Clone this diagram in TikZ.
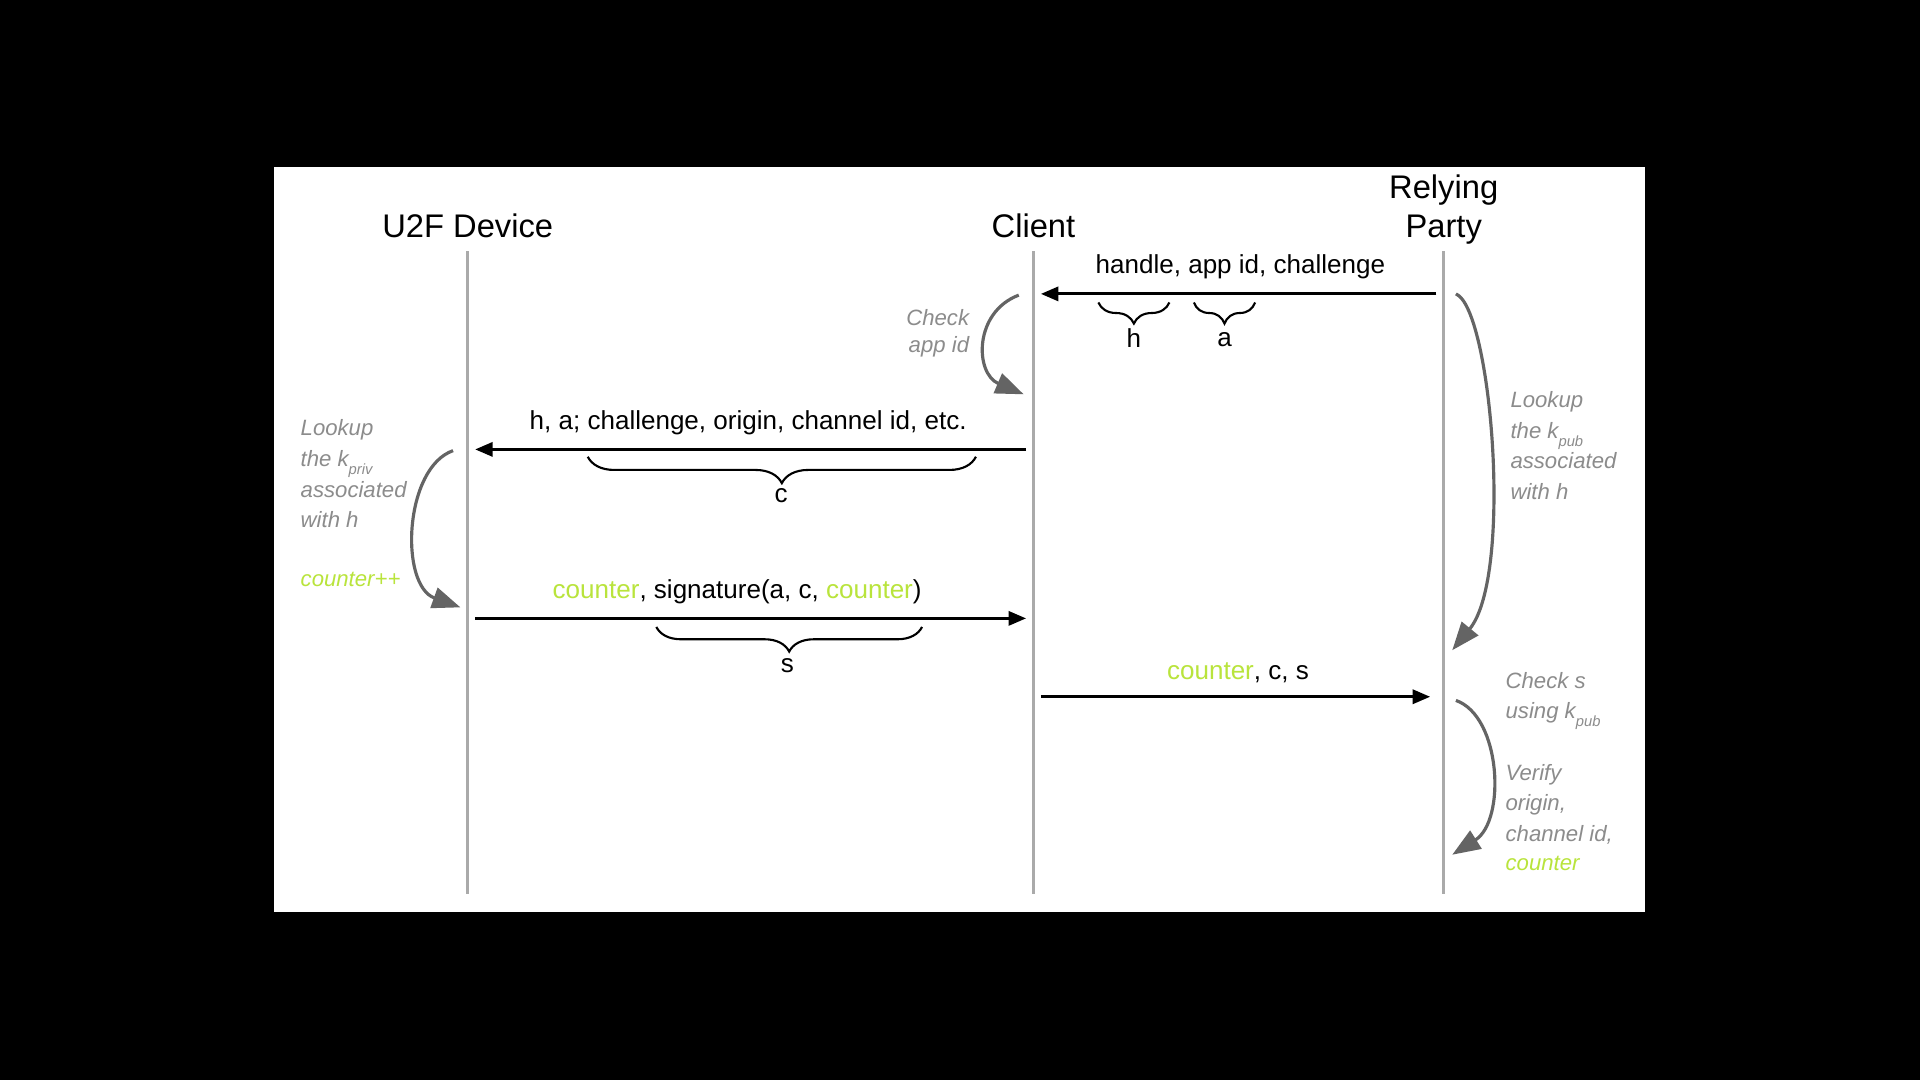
\documentclass[tikz,border=0pt]{standalone}
\usepackage{fontspec}
\setmainfont{Liberation Sans}
\usetikzlibrary{arrows.meta,decorations.pathreplacing}
\definecolor{cgreen}{RGB}{185,228,60}
\definecolor{notegray}{RGB}{140,140,140}
\definecolor{linegray}{RGB}{170,170,170}
\definecolor{curvegray}{RGB}{100,100,100}
\newcommand\ksub[1]{\raisebox{-2.2pt}{\fontsize{4.2}{5}\selectfont #1}}
\begin{document}
\begin{tikzpicture}[x=0.012245cm,y=-0.012245cm,
  title/.style={font=\fontsize{9.3}{11}\selectfont, inner sep=0, anchor=base},
  msg/.style={font=\fontsize{7.4}{9}\selectfont, inner sep=0, anchor=base},
  note/.style={font=\fontsize{6.3}{8}\selectfont\itshape, text=notegray, inner sep=0, anchor=base west},
  noteR/.style={note, anchor=base east},
  life/.style={draw=linegray, line width=0.75pt},
  msgarrow/.style={draw=black, line width=0.9pt, -{Triangle[length=5pt,width=4pt]}},
  loop/.style={draw=curvegray, line width=0.9pt, -{Triangle[length=8pt,width=6pt]}},
  bracebox/.style={draw=black, line width=0.6pt, decorate, decoration={brace, mirror, amplitude=#1}},
]
\useasboundingbox (0,0) rectangle (1568,882);
\fill[black] (0,0) rectangle (1568,882);
\fill[white] (224,136) rectangle (1343,745);

% titles
\node[title] (tu2f) at (382,194) {U2F Device};
\node[title] (tcli) at (844,194) {Client};
\node[title] (trp1) at (1179,162) {Relying};
\node[title] (trp2) at (1179,194) {Party};

% lifelines
\coordinate (u2ftop) at (382,205); \coordinate (u2fbot) at (382,730);
\coordinate (clitop) at (844,205); \coordinate (clibot) at (844,730);
\coordinate (rptop) at (1179,205); \coordinate (rpbot) at (1179,730);
\draw[life] (u2ftop) -- (u2fbot);
\draw[life] (clitop) -- (clibot);
\draw[life] (rptop) -- (rpbot);

% message 1
\coordinate (m1s) at (1173,240); \coordinate (m1e) at (850,240);
\draw[msgarrow] (m1s) -- (m1e);
\node[msg] (l1) at (1013,223.5) {handle, app id, challenge};
\coordinate (bh1) at (897,247); \coordinate (bh2) at (955,247);
\draw[bracebox=6pt] (bh1) -- (bh2);
\node[msg] (lh) at (926,284) {h};
\coordinate (ba1) at (975,247); \coordinate (ba2) at (1025,247);
\draw[bracebox=6pt] (ba1) -- (ba2);
\node[msg] (la) at (1000,283) {a};

% check app id
\coordinate (ca1) at (832,241); \coordinate (ca2) at (836,322);
\draw[loop] (ca1) .. controls (795,255) and (796,305) .. (ca2);
\node[noteR] (nc1) at (792,266) {Check};
\node[noteR] (nc2) at (792,288) {app id};

% message 2
\coordinate (m2s) at (838,367); \coordinate (m2e) at (388,367);
\draw[msgarrow] (m2s) -- (m2e);
\node[msg] (l2) at (611,351) {h, a; challenge, origin, channel id, etc.};
\coordinate (bc1) at (480,373); \coordinate (bc2) at (797,373);
\draw[bracebox=7.5pt] (bc1) -- (bc2);
\node[msg] (lc) at (638,410) {c};

% lookup kpriv
\coordinate (lk1) at (370,368); \coordinate (lk2) at (376,496);
\draw[loop] (lk1) .. controls (330,382) and (326,478) .. (lk2);
\node[note] (nl1) at (245,356) {Lookup};
\node[note] (nl2) at (245,381) {the k\ksub{priv}};
\node[note] (nl3) at (245,406) {associated};
\node[note] (nl4) at (245,431) {with h};
\node[note, text=cgreen] (nl5) at (245,479) {counter++};

% message 3
\coordinate (m3s) at (388,505); \coordinate (m3e) at (838,505);
\draw[msgarrow] (m3s) -- (m3e);
\node[msg] (l3) at (602,489) {\textcolor{cgreen}{counter}, signature(a, c, \textcolor{cgreen}{counter})};
\coordinate (bs1) at (536,512); \coordinate (bs2) at (753,512);
\draw[bracebox=7pt] (bs1) -- (bs2);
\node[msg] (ls) at (643,549) {s};

% message 4
\coordinate (m4s) at (850,569); \coordinate (m4e) at (1168,569);
\draw[msgarrow] (m4s) -- (m4e);
\node[msg] (l4) at (1011,555) {\textcolor{cgreen}{counter}, c, s};

% lookup kpub
\coordinate (rk1) at (1189,240); \coordinate (rk2) at (1186,531);
\draw[loop] (rk1) .. controls (1218,252) and (1236,470) .. (rk2);
\node[note] (nr1) at (1233,333) {Lookup};
\node[note] (nr2) at (1233,358) {the k\ksub{pub}};
\node[note] (nr3) at (1233,383) {associated};
\node[note] (nr4) at (1233,408) {with h};

% check s / verify
\coordinate (cs1) at (1189,572); \coordinate (cs2) at (1186,698);
\draw[loop] (cs1) .. controls (1226,585) and (1230,670) .. (cs2);
\node[note] (ns1) at (1229,562) {Check s};
\node[note] (ns2) at (1229,587) {using k\ksub{pub}};
\node[note] (ns3) at (1229,637) {Verify};
\node[note] (ns4) at (1229,662) {origin,};
\node[note] (ns5) at (1229,687) {channel id,};
\node[note, text=cgreen] (ns6) at (1229,711) {counter};
\end{tikzpicture}
\end{document}
